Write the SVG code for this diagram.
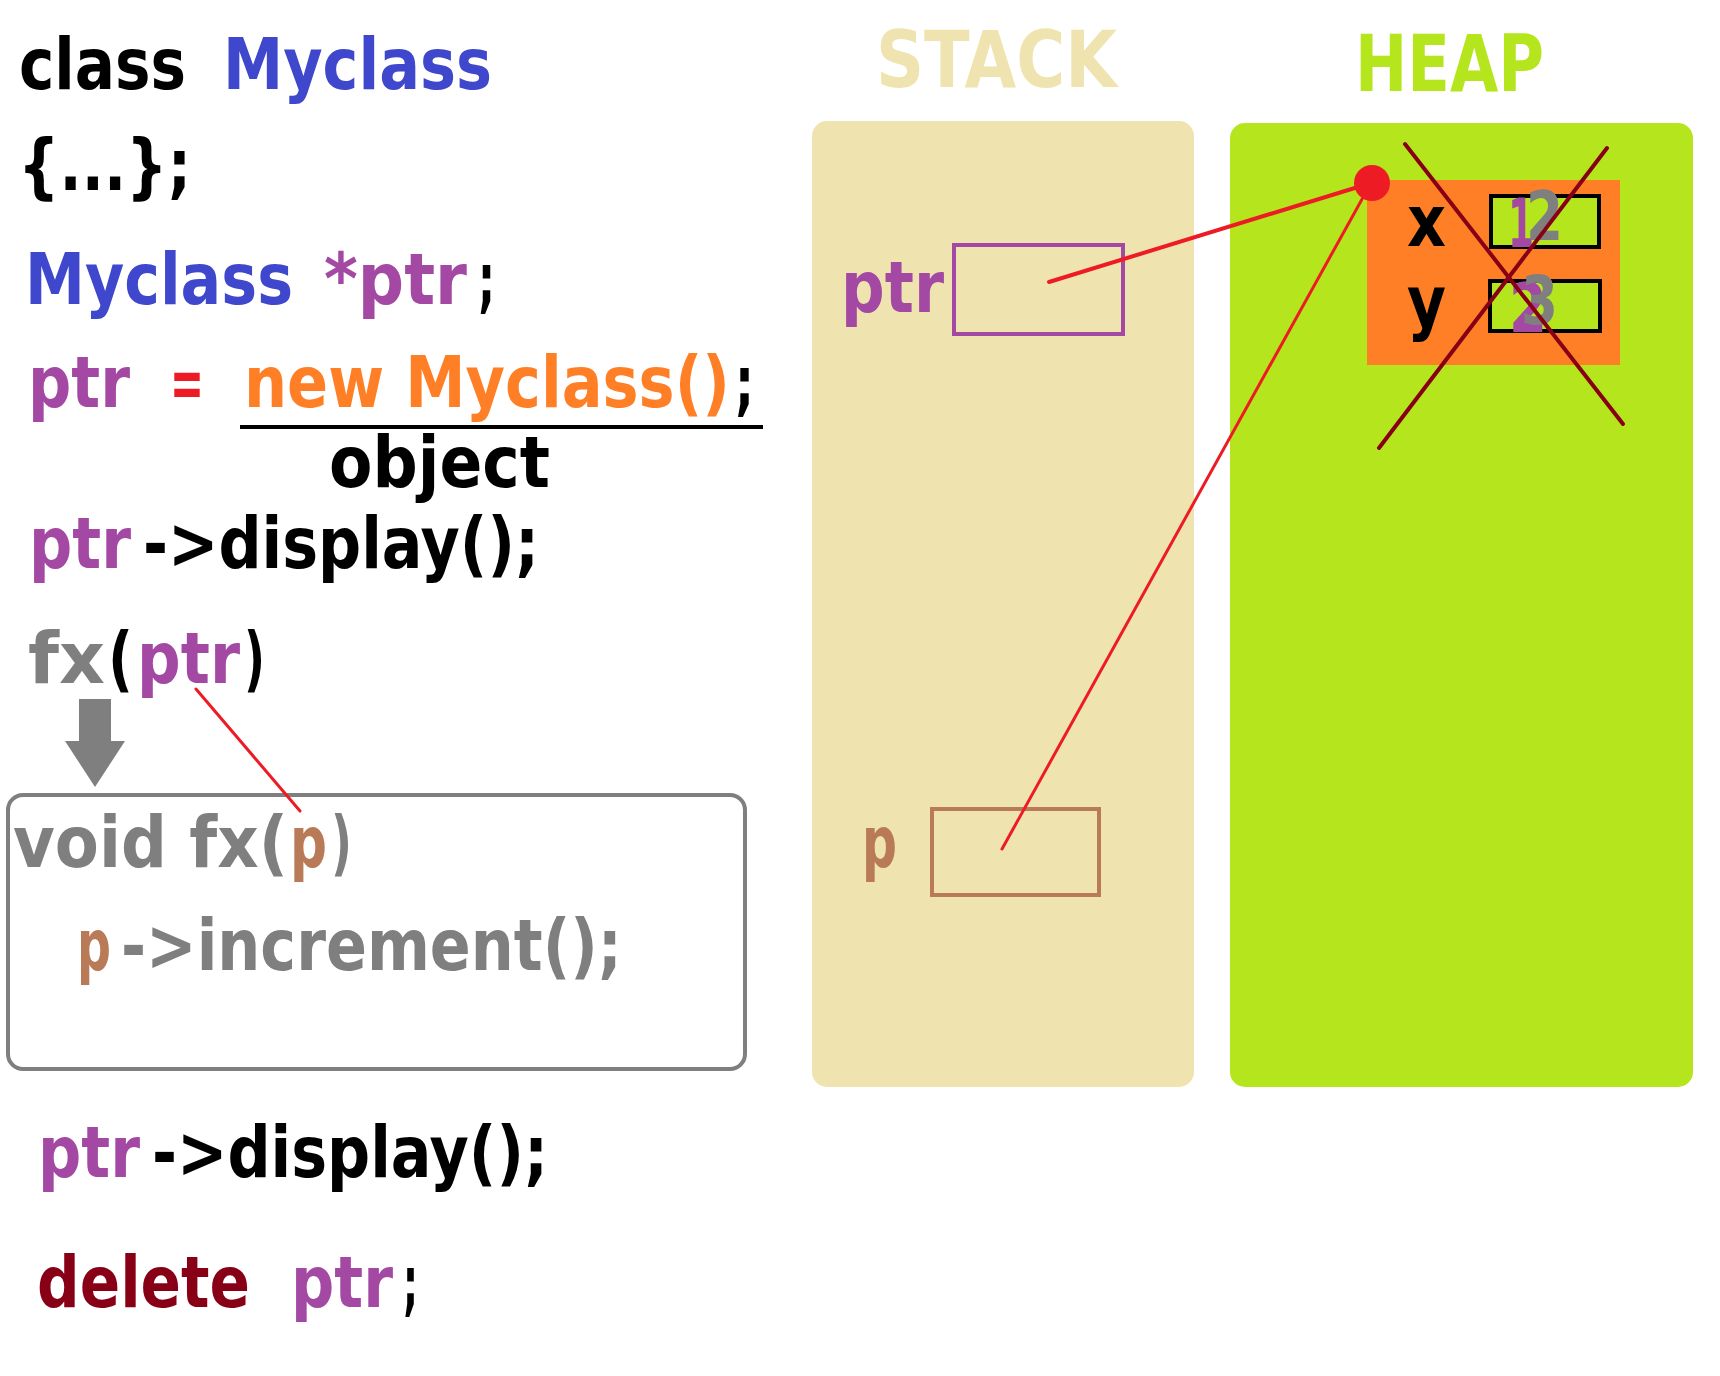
<svg xmlns="http://www.w3.org/2000/svg" width="1720" height="1376" viewBox="0 0 1720 1376">
<style>
.t{font-family:"DejaVu Sans","Liberation Sans",sans-serif;font-weight:bold;font-size:72px}
.h{font-size:78px}
.n{font-size:68px}
.blk{fill:#000}
.blu{fill:#3F48CC}
.pur{fill:#A349A4}
.org{fill:#FF7F27}
.red{fill:#ED1C24}
.gry{fill:#7F7F7F}
.brn{fill:#B97A57}
.drd{fill:#880015}
.conn{stroke:#ED1C24;fill:none;stroke-linecap:round}
.cross{stroke:#880015;stroke-width:4;stroke-linecap:round}
</style>
<rect width="1720" height="1376" fill="#fff"/>

<g id="code-class">
<text class="t blk" x="19" y="89" textLength="167" lengthAdjust="spacingAndGlyphs">class</text>
<text class="t blu" x="223" y="89" textLength="269" lengthAdjust="spacingAndGlyphs">Myclass</text>
</g>
<g id="code-body">
<text class="t blk" x="18" y="190" textLength="173" lengthAdjust="spacingAndGlyphs">{...};</text>
</g>
<g id="code-decl">
<text class="t blu" x="25" y="304" textLength="268" lengthAdjust="spacingAndGlyphs">Myclass</text>
<text class="t pur" x="324" y="304" textLength="143" lengthAdjust="spacingAndGlyphs">*ptr</text>
<text class="t blk" x="478" y="304" textLength="17" lengthAdjust="spacingAndGlyphs">;</text>
</g>
<g id="code-new">
<text class="t pur" x="28" y="407" textLength="102" lengthAdjust="spacingAndGlyphs">ptr</text>
<text class="t red" x="170" y="407" textLength="34" lengthAdjust="spacingAndGlyphs">=</text>
<text class="t org" x="244" y="407" textLength="486" lengthAdjust="spacingAndGlyphs">new Myclass()</text>
<text class="t blk" x="735" y="407" textLength="19" lengthAdjust="spacingAndGlyphs">;</text>
<line x1="240" y1="427" x2="763" y2="427" stroke="#000" stroke-width="4"/>
</g>
<g id="code-object">
<text class="t blk" x="329" y="487" textLength="221" lengthAdjust="spacingAndGlyphs">object</text>
</g>
<g id="code-display1">
<text class="t pur" x="29" y="568" textLength="102" lengthAdjust="spacingAndGlyphs">ptr</text>
<text class="t blk" x="143" y="568" textLength="396" lengthAdjust="spacingAndGlyphs">-&gt;display();</text>
</g>
<g id="code-call">
<text class="t gry" x="28" y="683" textLength="77" lengthAdjust="spacingAndGlyphs">fx</text>
<text class="t blk" x="108" y="683" textLength="25" lengthAdjust="spacingAndGlyphs">(</text>
<text class="t pur" x="137" y="683" textLength="103" lengthAdjust="spacingAndGlyphs">ptr</text>
<text class="t blk" x="244" y="683" textLength="21" lengthAdjust="spacingAndGlyphs">)</text>
</g>
<g id="call-arrow">
<polygon points="79,699 111,699 111,741 125,741 95,787 65,741 79,741" fill="#7F7F7F"/>
</g>
<g id="function-box">
<rect x="8" y="795" width="737" height="274" rx="15" fill="none" stroke="#7F7F7F" stroke-width="4"/>
<text class="t gry" x="13" y="867" textLength="275" lengthAdjust="spacingAndGlyphs">void fx(</text>
<text class="t brn" x="290" y="867" textLength="37" lengthAdjust="spacingAndGlyphs">p</text>
<text class="t gry" x="331" y="867" textLength="21" lengthAdjust="spacingAndGlyphs">)</text>
<text class="t brn" x="77" y="970" textLength="34" lengthAdjust="spacingAndGlyphs">p</text>
<text class="t gry" x="121" y="970" textLength="501" lengthAdjust="spacingAndGlyphs">-&gt;increment();</text>
</g>
<g id="code-display2">
<text class="t pur" x="38" y="1177" textLength="102" lengthAdjust="spacingAndGlyphs">ptr</text>
<text class="t blk" x="152" y="1177" textLength="396" lengthAdjust="spacingAndGlyphs">-&gt;display();</text>
</g>
<g id="code-delete">
<text class="t drd" x="37" y="1307" textLength="213" lengthAdjust="spacingAndGlyphs">delete</text>
<text class="t pur" x="291" y="1307" textLength="102" lengthAdjust="spacingAndGlyphs">ptr</text>
<text class="t blk" x="403" y="1307" textLength="15" lengthAdjust="spacingAndGlyphs">;</text>
</g>

<g id="stack">
<text class="t h" x="876" y="87" fill="#EFE4B0" textLength="241" lengthAdjust="spacingAndGlyphs">STACK</text>
<rect x="812" y="121" width="382" height="966" rx="15" fill="#EFE4B0"/>
</g>
<g id="heap">
<text class="t h" x="1355" y="91" fill="#B5E61D" textLength="189" lengthAdjust="spacingAndGlyphs">HEAP</text>
<rect x="1230" y="123" width="463" height="964" rx="15" fill="#B5E61D"/>
</g>
<g id="stack-ptr">
<text class="t pur" x="841" y="312" textLength="103" lengthAdjust="spacingAndGlyphs">ptr</text>
<rect x="954" y="245" width="169" height="89" fill="none" stroke="#A349A4" stroke-width="4"/>
</g>
<g id="stack-p">
<text class="t brn" x="862" y="867" textLength="35" lengthAdjust="spacingAndGlyphs">p</text>
<rect x="932" y="809" width="167" height="86" fill="none" stroke="#B97A57" stroke-width="4"/>
</g>
<g id="heap-object">
<rect x="1367" y="180" width="253" height="185" fill="#FF7F27"/>
<text class="t blk" x="1407" y="246" textLength="39" lengthAdjust="spacingAndGlyphs">x</text>
<text class="t blk" x="1407" y="327" textLength="39" lengthAdjust="spacingAndGlyphs">y</text>
<rect x="1491" y="196" width="108" height="51" fill="#B5E61D" stroke="#000" stroke-width="4"/>
<rect x="1490" y="281" width="110" height="50" fill="#B5E61D" stroke="#000" stroke-width="4"/>
<text class="t n pur" x="1508" y="247" textLength="26" lengthAdjust="spacingAndGlyphs">1</text>
<text class="t n gry" x="1526" y="240" textLength="37" lengthAdjust="spacingAndGlyphs">2</text>
<text class="t n pur" x="1509" y="332" textLength="38" lengthAdjust="spacingAndGlyphs">2</text>
<text class="t n gry" x="1521" y="324" textLength="37" lengthAdjust="spacingAndGlyphs">3</text>
<line class="cross" x1="1405" y1="144" x2="1623" y2="424"/>
<line class="cross" x1="1607" y1="148" x2="1379" y2="448"/>
</g>

<g id="connectors">
<line class="conn" x1="196" y1="689" x2="300" y2="811" stroke-width="3"/>
<line class="conn" x1="1049" y1="282" x2="1371" y2="183" stroke-width="4"/>
<line class="conn" x1="1002" y1="849" x2="1371" y2="183" stroke-width="3"/>
<circle cx="1372" cy="183" r="18" fill="#ED1C24"/>
</g>
</svg>
